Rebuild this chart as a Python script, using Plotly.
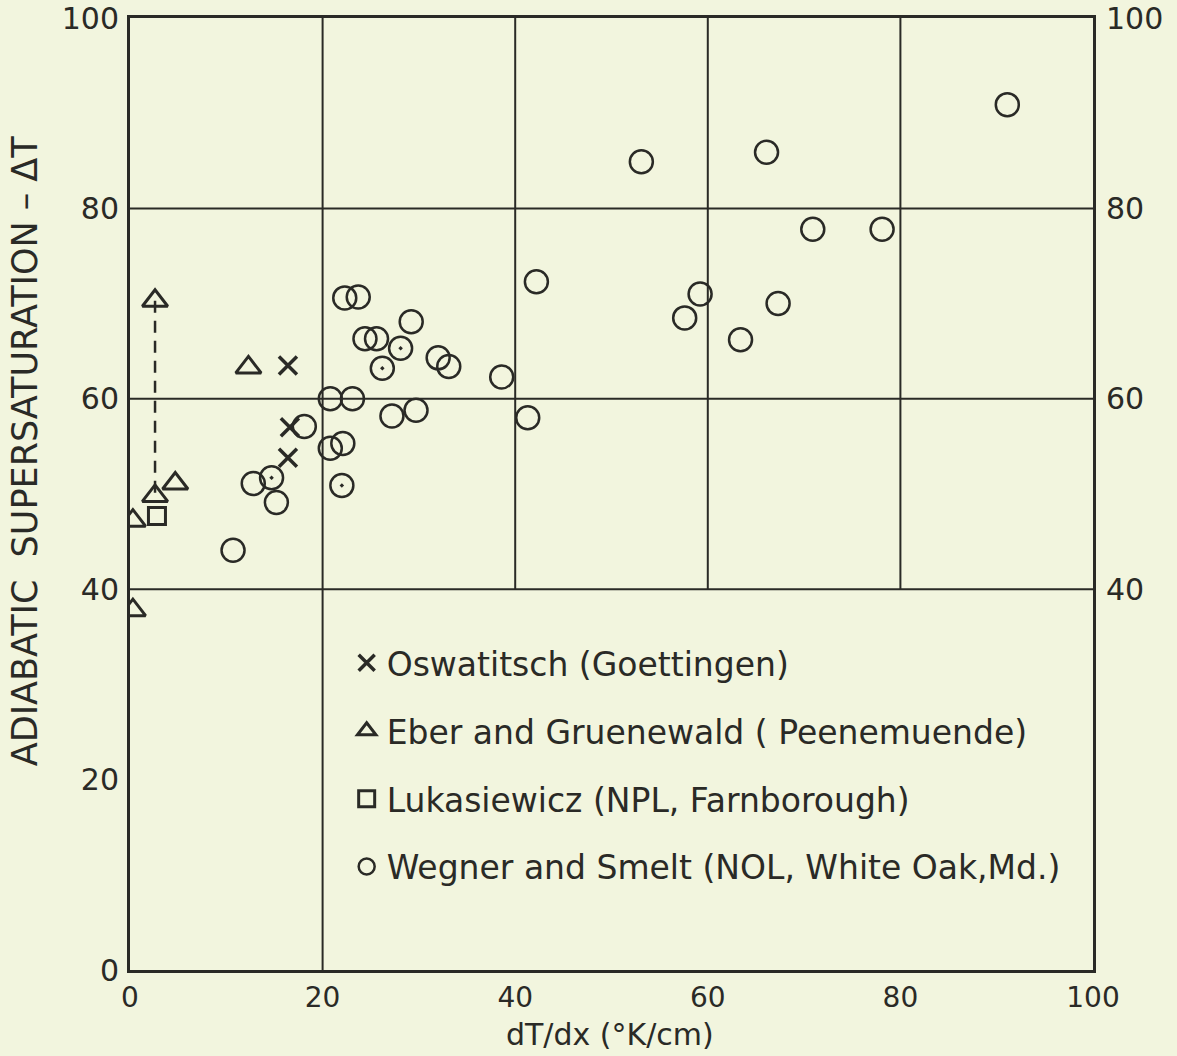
import plotly.graph_objects as go

# ---- data ----
osw_x = [16.4, 16.6, 16.4]
osw_y = [63.5, 57.0, 53.8]

eber_x = [2.6, 2.6, 4.7, 12.3, 0.3, 0.3]
eber_y = [70.3, 49.8, 51.1, 63.3, 47.2, 37.8]

luk_x = [2.8]
luk_y = [47.7]

weg_x = [22.3, 23.7, 24.4, 25.6, 29.2, 28.1, 26.2, 32.0, 33.1, 38.6,
         20.8, 23.1, 27.2, 29.7, 18.1, 20.8, 22.1, 22.0, 12.8, 14.7,
         15.2, 10.7, 42.2, 41.3, 53.1, 66.1, 91.1, 70.9, 78.1, 59.2,
         57.6, 67.3, 63.4]
weg_y = [70.6, 70.7, 66.3, 66.3, 68.1, 65.3, 63.2, 64.3, 63.4, 62.3,
         60.0, 60.0, 58.2, 58.8, 57.1, 54.8, 55.3, 50.9, 51.1, 51.7,
         49.1, 44.1, 72.3, 58.0, 84.9, 85.9, 90.9, 77.8, 77.8, 71.0,
         68.5, 70.0, 66.2]
weg_dot = [0, 0, 0, 0, 0, 1, 1, 0, 0, 0,
           0, 0, 0, 0, 0, 0, 0, 1, 0, 1,
           0, 0, 0, 0, 0, 0, 0, 0, 0, 0,
           0, 0, 0]

x_ticks = [0, 20, 40, 60, 80, 100]
y_ticks = [0, 20, 40, 60, 80, 100]
y_ticks_right = [40, 60, 80, 100]
full_vgrid = [20]
upper_vgrid = [40, 60, 80]
hgrid = [40, 60, 80]

x_title = "dT/dx (°K/cm)"
y_title = "ADIABATIC  SUPERSATURATION – ΔT"

names = ["Oswatitsch (Goettingen)",
         "Eber and Gruenewald ( Peenemuende)",
         "Lukasiewicz (NPL, Farnborough)",
         "Wegner and Smelt (NOL, White Oak,Md.)"]

# ---- style ----
BG = "#F2F5DE"
INK = "#2a2a26"
TICKFONT = dict(family="DejaVu Sans", size=30, color=INK)
XTICKFONT = dict(family="DejaVu Sans", size=28, color=INK)

fig = go.Figure()

# dashed range line between the two Eber points at the same x
fig.add_trace(go.Scatter(x=[eber_x[0], eber_x[1]], y=[eber_y[0], eber_y[1]],
                         mode="lines", line=dict(color=INK, width=2.5, dash="12px,8px"),
                         showlegend=False, hoverinfo="skip"))

fig.add_trace(go.Scatter(x=osw_x, y=osw_y, mode="markers", name=names[0],
                         legendgroup="a",
                         marker=dict(symbol="x-thin-open", size=18, color=INK,
                                     line=dict(color=INK, width=3.5))))
fig.add_trace(go.Scatter(x=eber_x, y=eber_y, mode="markers", name=names[1],
                         legendgroup="b",
                         marker=dict(symbol="triangle-up-open", size=22, color=INK,
                                     line=dict(color=INK, width=3))))
fig.add_trace(go.Scatter(x=luk_x, y=luk_y, mode="markers", name=names[2],
                         legendgroup="c",
                         marker=dict(symbol="square-open", size=17, color=INK,
                                     line=dict(color=INK, width=3))))
fig.add_trace(go.Scatter(x=weg_x, y=weg_y, mode="markers", name=names[3],
                         legendgroup="d",
                         marker=dict(symbol=["circle-open-dot" if d else "circle-open" for d in weg_dot],
                                     size=23, color=INK,
                                     line=dict(color=INK, width=2.5))))

# invisible trace for right axis
fig.add_trace(go.Scatter(x=[None], y=[None], yaxis="y2", showlegend=False))

shapes = []
for gx in full_vgrid:
    shapes.append(dict(type="line", xref="x", yref="y", x0=gx, x1=gx, y0=0, y1=100,
                       line=dict(color=INK, width=2)))
for gx in upper_vgrid:
    shapes.append(dict(type="line", xref="x", yref="y", x0=gx, x1=gx, y0=40, y1=100,
                       line=dict(color=INK, width=2)))
for gy in hgrid:
    shapes.append(dict(type="line", xref="x", yref="y", x0=0, x1=100, y0=gy, y1=gy,
                       line=dict(color=INK, width=2)))

annotations = [
    dict(text=y_title, xref="paper", yref="paper", x=-0.109, y=0.545,
         xanchor="center", yanchor="middle", textangle=-90, showarrow=False,
         font=dict(family="DejaVu Sans", size=35, color=INK)),
    dict(text=x_title, xref="paper", yref="paper", x=0.498, y=-0.0885,
         xanchor="center", yanchor="bottom", showarrow=False,
         font=dict(family="DejaVu Sans", size=30, color=INK)),
]

fig.update_layout(
    width=1177, height=1056,
    paper_bgcolor=BG, plot_bgcolor=BG,
    margin=dict(l=130, r=84, t=18, b=86),
    shapes=shapes,
    annotations=annotations,
    xaxis=dict(range=[0, 100], tickvals=x_ticks, ticktext=[str(v) for v in x_ticks],
               showgrid=False, zeroline=False, showline=True, mirror=True,
               linecolor=INK, linewidth=3, ticks="", tickfont=XTICKFONT,
               ticklabelstandoff=0, automargin=False),
    yaxis=dict(range=[0, 100], tickvals=y_ticks, ticktext=[str(v) for v in y_ticks],
               showgrid=False, zeroline=False, showline=True, mirror=True,
               linecolor=INK, linewidth=3, ticks="", tickfont=TICKFONT,
               ticklabelstandoff=2, automargin=False),
    yaxis2=dict(range=[0, 100], overlaying="y", side="right", tickvals=y_ticks_right,
                ticktext=[str(v) for v in y_ticks_right],
                showgrid=False, zeroline=False, showline=False, ticks="",
                ticklabelstandoff=12, automargin=False,
                tickfont=TICKFONT),
    legend=dict(x=0.225, y=0.352, xanchor="left", yanchor="top",
                bgcolor="rgba(0,0,0,0)", font=dict(family="DejaVu Sans", size=33, color=INK),
                tracegroupgap=22, itemsizing="trace"),
    showlegend=True,
)

fig.write_html("out.html",
               config={"displayModeBar": False},
               post_script="document.body.style.margin='0';"
                           "document.body.style.background='" + BG + "';")
